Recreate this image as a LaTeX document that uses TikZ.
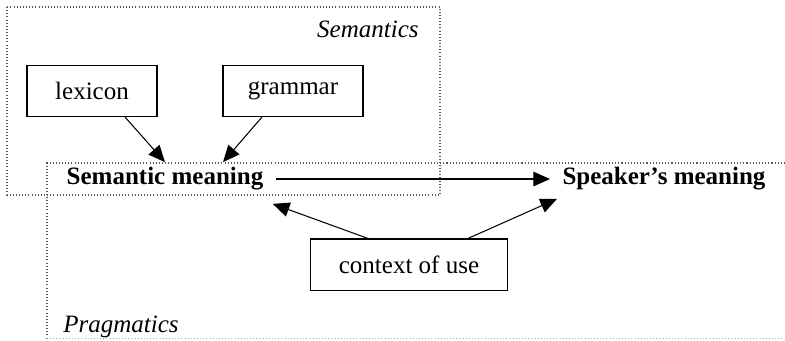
\documentclass[tikz,border=0pt,12pt]{standalone}
\usepackage{fontspec}
\setmainfont{Liberation Serif}
\usetikzlibrary{arrows.meta,calc}

\begin{document}
\begin{tikzpicture}[x=0.48pt,y=-0.48pt,
	box/.style={draw,line width=0.5pt,minimum height=24.5pt,inner sep=0pt},
	term/.style={font=\bfseries,inner xsep=5.8pt,inner ysep=2.4pt},
	arr/.style={line width=0.5pt,-{Triangle[length=8pt,width=7pt]}},
	area/.style={black!65,line width=0.5pt,densely dotted}]
	\useasboundingbox (0,0) rectangle (785,340);
	% the two areas
	\draw[area] (7,7) rectangle (440,195);
	\draw[area] (785,163) -- (47,163) -- (47,338.5);
	\draw[area,black!35] (47,338.5) -- (785,338.5);
	\node[anchor=base east,inner sep=0pt,font=\itshape] (semlabel) at (419,37) {Semantics};
	\node[anchor=base west,inner sep=0pt,font=\itshape] (pralabel) at (63,332) {Pragmatics};
	% boxes
	\node[box,minimum width=62.4pt] (lex) at (92,91) {lexicon};
	\node[box,minimum width=67.2pt] (gram) at (293,91) {grammar};
	\node[box,minimum width=95pt] (ctx) at (409,264.5) {context of use};
	% meanings
	\node[term] (sem) at (165,179) {Semantic meaning};
	\node[term,anchor=west] (spk) at (550,179) {Speaker’s meaning};
	% arrows
	\draw[arr] ($(lex.south)+(33,0)$) -- (sem.north);
	\draw[arr] ($(gram.south)+(-31,0)$) -- ($(sem.north)+(58,0)$);
	\draw[arr] (sem.east) -- (spk.west);
	\draw[arr] ($(ctx.north)+(-41,0)$) -- ($(sem.south east)+(-3,8)$);
	\draw[arr] ($(ctx.north)+(59,0)$) -- ($(spk.south west)+(7,3)$);
\end{tikzpicture}
\end{document}
